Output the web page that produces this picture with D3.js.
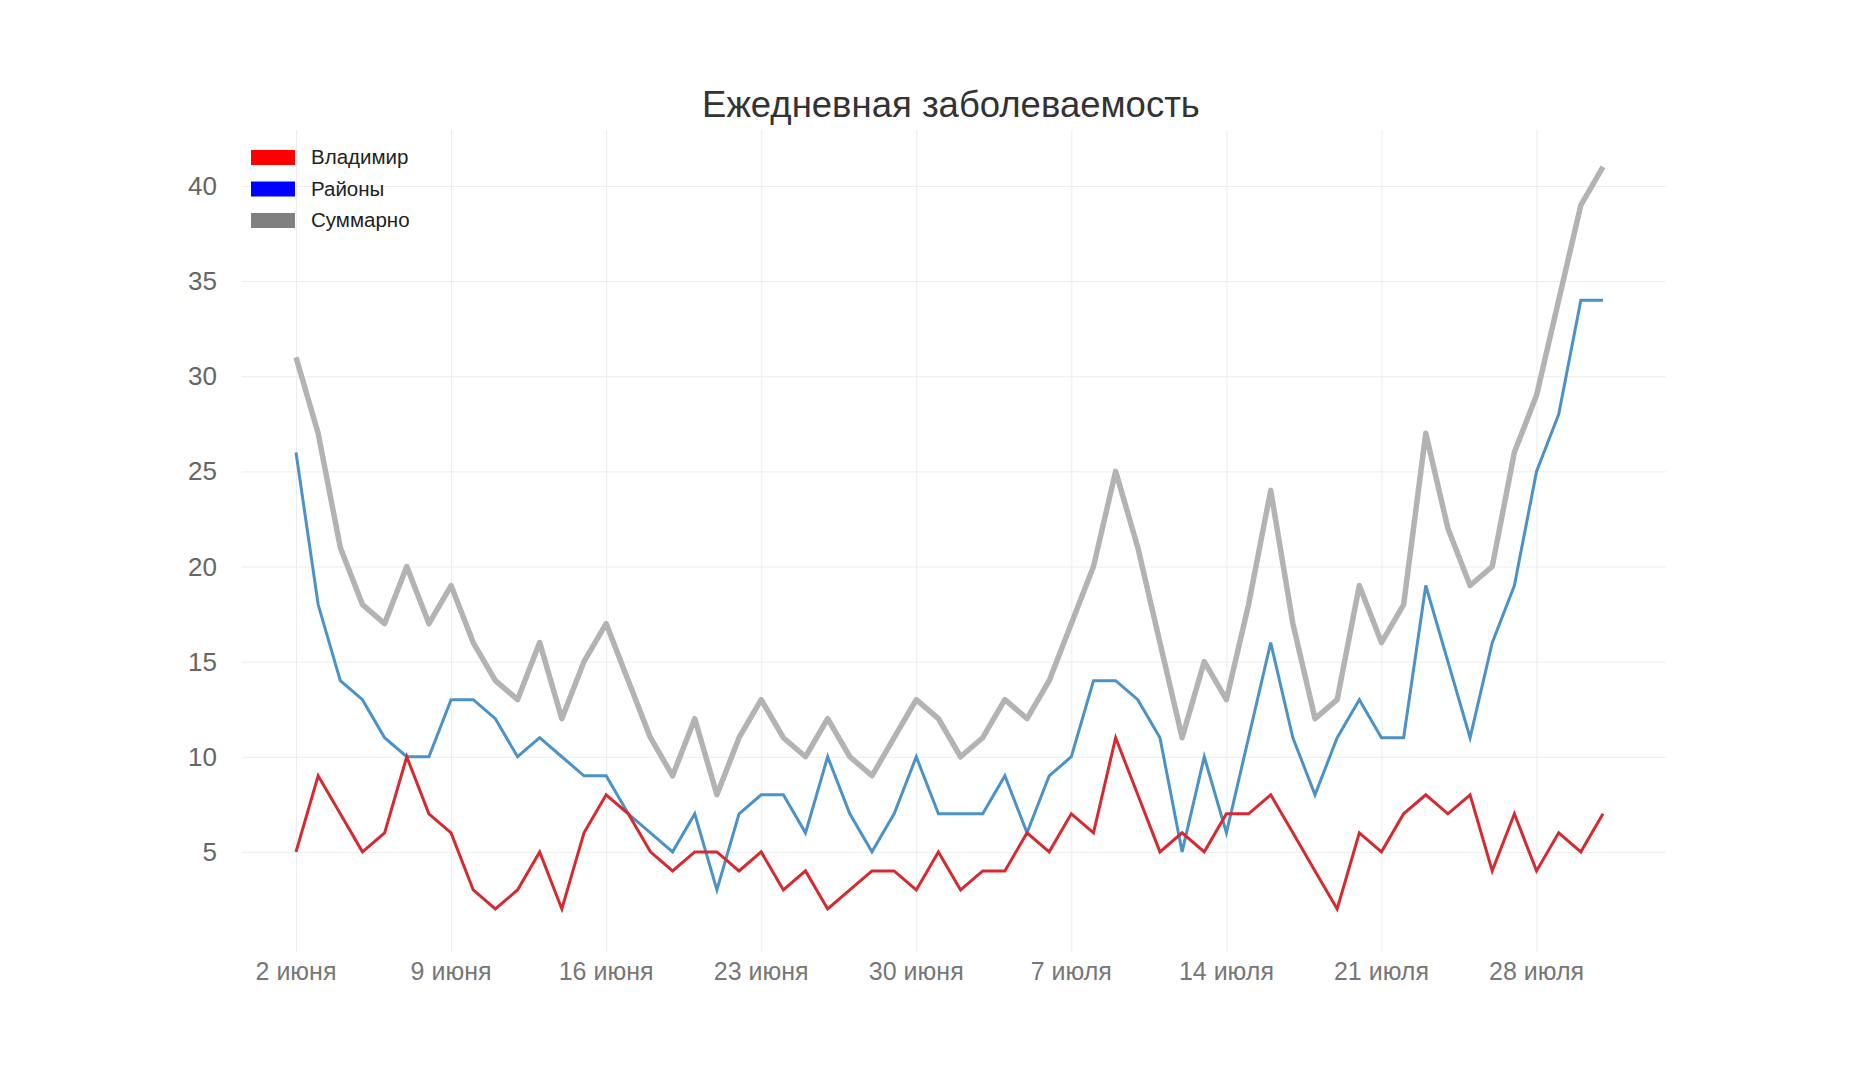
<!DOCTYPE html>
<html><head><meta charset="utf-8">
<script src="https://cdn.jsdelivr.net/npm/d3@7"></script>
<style>
body{margin:0;background:#fff;font-family:"Liberation Sans",Arial,sans-serif;}
.grid line{stroke:#ececec;}
.grid path{display:none;}
</style></head><body>
<div id="chart"></div>
<script>
var startDate = "2020-06-02";
var vladimir = [5,9,7,5,6,10,7,6,3,2, 3,5,2,6,8,7,5,4,5,5, 4,5,3,4,2,3,4,4,3,5,
                3,4,4,6,5,7,6,11,8,5, 6,5,7,7,8,6,4,2,6,5, 7,8,7,8,4,7,4,6,5,7];
var rayony = [26,18,14,13,11,10,10,13,13,12, 10,11,10,9,9,7,6,5,7,3, 7,8,8,6,10,7,5,7,10,7,
              7,7,9,6,9,10,14,14,13,11, 5,10,6,11,16,11,8,11,13,11, 11,19,15,11,16,19,25,28,34,34];
var total = [31,27,21,18,17,20,17,19,16,14, 13,16,12,15,17,14,11,9,12,8, 11,13,11,10,12,10,9,11,13,12,
             10,11,13,12,14,17,20,25,21,16, 11,15,13,18,24,17,12,13,19,16, 18,27,22,19,20,26,29,34,39,41];
var yTicks = [5,10,15,20,25,30,35,40];
var xTickLabels = ["2 июня","9 июня","16 июня","23 июня","30 июня","7 июля","14 июля","21 июля","28 июля"];
var legendNames = ["Владимир","Районы","Суммарно"];

var width = 1851, height = 1080;
var svg = d3.select("#chart").append("svg").attr("width", width).attr("height", height);

var parse = d3.timeParse("%Y-%m-%d");
var t0 = parse(startDate);
var dates = total.map(function(d, i){ return d3.timeDay.offset(t0, i); });

// plot area
var x = d3.scaleTime().domain([dates[0], dates[dates.length-1]]).range([296, 1603]);
var y = d3.scaleLinear().domain([0, 40]).range([947, 186]);
var tickDates = xTickLabels.map(function(d, i){ return d3.timeDay.offset(t0, i*7); });

// gridlines
svg.append("g").attr("class", "grid")
  .attr("transform", "translate(0,952)")
  .call(d3.axisBottom(x).tickValues(tickDates).tickSize(-822).tickFormat(""));
svg.append("g").attr("class", "grid")
  .attr("transform", "translate(242,0)")
  .call(d3.axisLeft(y).tickValues(yTicks).tickSize(-1424).tickFormat(""));

// tick labels
svg.append("g").selectAll("text").data(tickDates).enter().append("text")
  .attr("x", function(d){ return x(d); }).attr("y", 980)
  .attr("text-anchor", "middle").attr("font-size", 25).attr("fill", "#777")
  .text(function(d, i){ return xTickLabels[i]; });
svg.append("g").selectAll("text").data(yTicks).enter().append("text")
  .attr("x", 217).attr("y", function(d){ return y(d) + 9; })
  .attr("text-anchor", "end").attr("font-size", 26).attr("fill", "#666")
  .text(function(d){ return d; });

// lines
var line = function(vals){
  return d3.line().x(function(d, i){ return x(dates[i]); }).y(function(d){ return y(d); })(vals);
};
svg.append("path").attr("d", line(total)).attr("fill", "none")
  .attr("stroke", "#b3b3b3").attr("stroke-width", 5.5).attr("stroke-linejoin", "round");
svg.append("path").attr("d", line(rayony)).attr("fill", "none")
  .attr("stroke", "#4a92c8").attr("stroke-width", 3);
svg.append("path").attr("d", line(vladimir)).attr("fill", "none")
  .attr("stroke", "#d62a30").attr("stroke-width", 3);

// title
svg.append("text").attr("x", 951).attr("y", 117).attr("text-anchor", "middle")
  .attr("font-size", 36.5).attr("fill", "#333").text("Ежедневная заболеваемость");

// legend
var legendColors = ["#ff0000", "#0000ff", "#808080"];
var lg = svg.append("g").selectAll("g").data(legendNames).enter().append("g")
  .attr("transform", function(d, i){ return "translate(251," + (150 + i*31.5) + ")"; });
lg.append("rect").attr("width", 44).attr("height", 15).attr("fill", function(d, i){ return legendColors[i]; });
lg.append("text").attr("x", 60).attr("y", 14).attr("font-size", 20.5).attr("fill", "#222")
  .text(function(d){ return d; });
</script>
</body></html>
